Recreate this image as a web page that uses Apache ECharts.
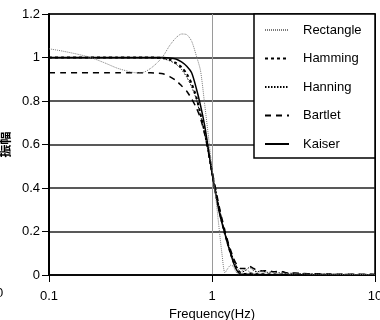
<!DOCTYPE html>
<html>
<head>
<meta charset="utf-8">
<style>html,body{margin:0;padding:0;background:#fff;}#c{width:380px;height:320px;}</style>
<script src="https://cdn.jsdelivr.net/npm/echarts@6/dist/echarts.min.js"></script>
</head>
<body>
<div id="c"></div>
<script>
const freq = [0.1,0.12,0.15,0.18,0.22,0.26,0.3,0.34,0.38,0.42,0.46,0.5,0.55,0.6,0.65,0.7,0.75,0.8,0.85,0.9,0.95,1.0,1.05,1.1,1.15,1.2,1.25,1.3,1.35,1.4,1.45,1.5,1.6,1.7,1.8,1.9,2.0,2.2,2.4,2.6,2.8,3.0,3.5,4,5,6,7,8,10];
const seriesNames = ['Rectangle','Hamming','Hanning','Bartlet','Kaiser'];
const rectangle = [1.04,1.03,1.015,1.0,0.975,0.952,0.938,0.93,0.932,0.95,0.975,1.005,1.055,1.09,1.108,1.105,1.075,1.01,0.94,0.79,0.64,0.49,0.37,0.23,0.1,0.01,0.03,0.045,0.04,0.015,0.005,0.015,0.025,0.015,0.005,0.012,0.015,0.008,0.01,0.006,0.008,0.005,0.006,0.004,0.004,0.003,0.003,0.002,0.002];
const hamming = [1,1,1,1,1,1,1,1,1,1,0.999,0.998,0.99,0.975,0.955,0.925,0.88,0.82,0.74,0.66,0.57,0.47,0.385,0.31,0.245,0.19,0.145,0.1,0.065,0.04,0.02,0.01,0.005,0.008,0.005,0.004,0.004,0.003,0.003,0.002,0.002,0.002,0.002,0.001,0.001,0.001,0.001,0.001,0.001];
const hanning = [1,1,1,1,1,1,1,1,1,1,0.998,0.995,0.985,0.97,0.945,0.91,0.865,0.81,0.735,0.655,0.565,0.47,0.39,0.315,0.25,0.195,0.15,0.11,0.075,0.045,0.025,0.012,0.02,0.035,0.02,0.015,0.02,0.012,0.015,0.01,0.008,0.008,0.006,0.005,0.004,0.003,0.003,0.002,0.002];
const bartlet = [0.93,0.93,0.93,0.93,0.93,0.93,0.93,0.93,0.93,0.93,0.928,0.925,0.912,0.895,0.87,0.845,0.81,0.77,0.72,0.65,0.565,0.48,0.4,0.325,0.26,0.205,0.155,0.115,0.08,0.055,0.04,0.03,0.03,0.04,0.03,0.02,0.018,0.02,0.015,0.018,0.012,0.01,0.008,0.006,0.005,0.004,0.004,0.003,0.003];
const kaiser = [1,1,1,1,1,1,1,1,1,1,1,1,0.998,0.993,0.98,0.96,0.93,0.86,0.78,0.69,0.58,0.47,0.38,0.3,0.24,0.19,0.14,0.1,0.06,0.03,0.012,0.004,0.003,0.004,0.002,0.002,0.002,0.001,0.001,0.001,0.001,0.001,0.001,0.001,0.001,0.001,0.001,0.001,0.001];
const xTickLabels = ['0.1','1','10'];
const yTicks = [0,0.2,0.4,0.6,0.8,1,1.2];

const values = [rectangle, hamming, hanning, bartlet, kaiser];
const styles = [
  {color:'#7a7a7a', width:1, type:[1,1]},
  {color:'#000', width:2, type:[3,3]},
  {color:'#000', width:1, type:[1.5,1.5]},
  {color:'#000', width:1.5, type:[6,5]},
  {color:'#000', width:1.5, type:'solid'}
];
const FONT = '"Liberation Sans", Arial, sans-serif';
const chart = echarts.init(document.getElementById('c'), null, {renderer:'canvas'});
chart.setOption({
  animation:false,
  backgroundColor:'#fff',
  grid:{left:49, top:14, right:5, bottom:45, containLabel:false, outerBoundsMode:'none',
    show:true, borderColor:'#000', borderWidth:1.5, backgroundColor:'transparent'},
  xAxis:{
    type:'log', logBase:10, min:0.1, max:10,
    name:'Frequency(Hz)', nameLocation:'middle', nameGap:32,
    nameTextStyle:{color:'#000', fontSize:13, fontFamily:FONT},
    axisLine:{show:true, lineStyle:{color:'#000', width:1.5}},
    axisTick:{show:true, length:7, lineStyle:{color:'#000', width:1}},
    axisLabel:{color:'#000', fontSize:13, fontFamily:FONT, margin:15,
      formatter:function(v){ const i=[0.1,1,10].findIndex(t=>Math.abs(t-v)<1e-9); return i>=0?xTickLabels[i]:''; }},
    splitLine:{show:true, lineStyle:{color:['#000','#9a9a9a','#000'], width:1}}
  },
  yAxis:{
    type:'value', min:0, max:1.2, interval:0.2,
    name:'振幅', nameLocation:'middle', nameRotate:90, nameGap:29,
    nameTextStyle:{color:'#000', fontSize:13, fontWeight:'bold', fontFamily:'"Noto Sans CJK JP", sans-serif'},
    axisLine:{show:true, lineStyle:{color:'#000', width:2}},
    axisTick:{show:true, length:7, lineStyle:{color:'#000', width:1}},
    axisLabel:{color:'#000', fontSize:13, fontFamily:FONT, margin:9,
      formatter:function(v){ const i=yTicks.findIndex(t=>Math.abs(t-v)<1e-9); return i>=0?String(yTicks[i]):''; }},
    splitLine:{show:true, lineStyle:{color:'#222', width:1.5}}
  },
  legend:{
    orient:'vertical', left:264, top:23, padding:0, itemGap:14.5,
    itemWidth:24, itemHeight:14, z:200,
    itemStyle:{opacity:0},
    textStyle:{color:'#000', fontSize:13, fontFamily:FONT, padding:[0,0,0,9], lineHeight:14},
    data:seriesNames
  },
  graphic:[
    {type:'rect', z:100, shape:{x:254, y:14, width:121, height:144}, style:{fill:'#fff', stroke:'#000', lineWidth:1.5}},
    {type:'text', z:100, x:-4, y:287, style:{text:'0', fill:'#000', font:'13px "Liberation Sans", Arial, sans-serif'}}
  ],
  series: seriesNames.map((n,i)=>({
    name:n, type:'line', showSymbol:false, symbol:'none', smooth:0.25,
    lineStyle:styles[i], itemStyle:{color:styles[i].color},
    data: freq.map((f,k)=>[f, values[i][k]]),
    z: 10 - i
  }))
});
</script>
</body>
</html>
